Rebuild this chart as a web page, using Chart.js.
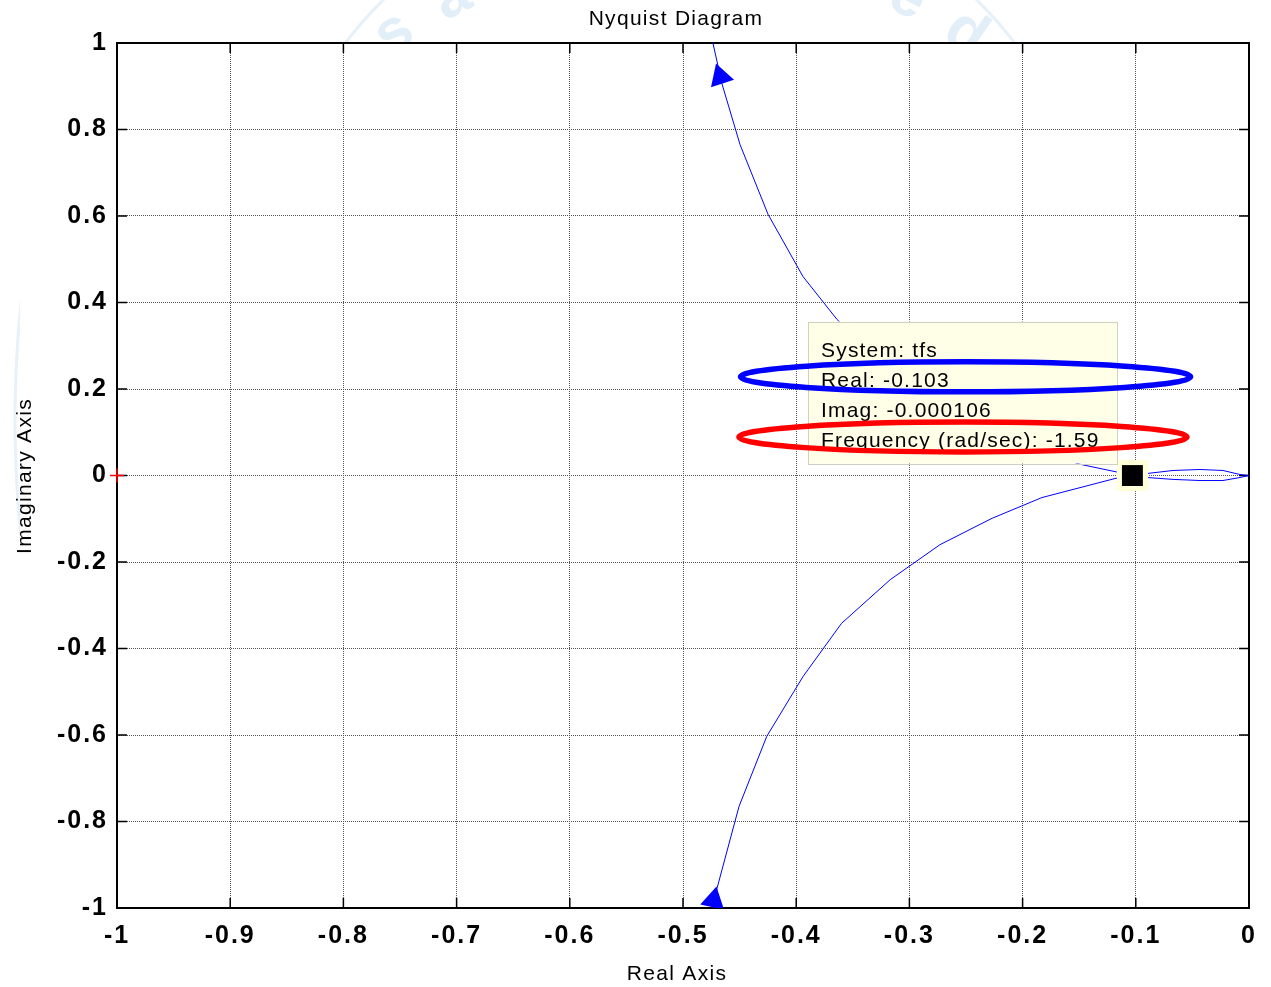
<!DOCTYPE html>
<html>
<head>
<meta charset="utf-8">
<title>Nyquist Diagram</title>
<script src="https://cdn.jsdelivr.net/npm/chart.js@4.4.0/dist/chart.umd.min.js"></script>
<style>
  html, body { margin: 0; padding: 0; background: #fff; }
  canvas { display: block; }
</style>
</head>
<body>
<canvas id="nyq" width="1271" height="987"></canvas>
<script>
// ---- axis ticks ----
const xTicks = [-1, -0.9, -0.8, -0.7, -0.6, -0.5, -0.4, -0.3, -0.2, -0.1, 0];
const xTickLabels = ['-1', '-0.9', '-0.8', '-0.7', '-0.6', '-0.5', '-0.4', '-0.3', '-0.2', '-0.1', '0'];
const yTicks = [-1, -0.8, -0.6, -0.4, -0.2, 0, 0.2, 0.4, 0.6, 0.8, 1];
const yTickLabels = ['-1', '-0.8', '-0.6', '-0.4', '-0.2', '0', '0.2', '0.4', '0.6', '0.8', '1'];

// ---- Nyquist curve of tfs (real / imaginary parts) ----
// negative-imaginary branch, from the bottom up to the real-axis crossing
const lowerRe = [-0.477, -0.4735, -0.470, -0.4505, -0.426, -0.394, -0.360, -0.317, -0.273, -0.227, -0.1829, -0.1184];
const lowerIm = [-1.04, -1.0, -0.955, -0.765, -0.603, -0.465, -0.342, -0.241, -0.160, -0.099, -0.051, -0.007];
// small loop between the crossing and the origin
const loopRe = [-0.103, -0.0901, -0.0671, -0.0433, -0.0230, -0.0080, 0, -0.0080, -0.0230, -0.0433, -0.0671, -0.0901, -0.103];
const loopIm = [-0.000106, -0.0046, -0.009, -0.0116, -0.0116, -0.0046, 0, 0.0023, 0.0116, 0.0139, 0.0116, 0.0046, -0.000106];
// positive-imaginary branch, from the crossing up to the top
const upperRe = [-0.1184, -0.1475, -0.1829, -0.227, -0.273, -0.317, -0.364, -0.394, -0.4249, -0.4496, -0.4655, -0.4735, -0.477];
const upperIm = [0.009, 0.025, 0.051, 0.099, 0.160, 0.241, 0.361, 0.460, 0.604, 0.765, 0.905, 0.999, 1.04];

// direction arrows on the two branches
const arrowRe = [-0.467, -0.473];
const arrowIm = [0.922, -0.982];

// critical point -1 + j0
const critRe = [-1];
const critIm = [0];

// data tip
const tipSystem = 'tfs';
const tipRe = -0.103;
const tipIm = -0.000106;
const tipFreq = -1.59;

// ---- layout of the data-tip box and highlight rings (axis units) ----
const tipBox = { left: -0.3896, right: -0.1166, top: 0.356, bottom: 0.0277 };
const rings = [
  { cx: -0.2504, cy: 0.2282, rx: 0.1988, ry: 0.0347, color: '#0000ff' },
  { cx: -0.2527, cy: 0.0890, rx: 0.1979, ry: 0.0347, color: '#ff0000' }
];
const arrowRotation = [-18, 12];

const FONT = '"Liberation Sans", Arial, Helvetica, sans-serif';

function pts(re, im) { return re.map((v, i) => ({ x: v, y: im[i] })); }
const curve = pts(lowerRe, lowerIm).concat(pts(loopRe, loopIm), pts(upperRe, upperIm));

// background, faint logo behind the page margins, white axes face
const backdrop = {
  id: 'backdrop',
  beforeDraw(chart) {
    const { ctx, chartArea: a, width, height } = chart;
    ctx.save();
    ctx.fillStyle = '#fff';
    ctx.fillRect(0, 0, width, height);

    // logo ring and lettering above the axes
    ctx.save();
    ctx.beginPath();
    ctx.rect(0, 0, width, a.top);
    ctx.clip();
    ctx.strokeStyle = '#e6f1f9';
    ctx.lineWidth = 3;
    ctx.beginPath(); ctx.arc(680, 300, 422, 0, Math.PI * 2); ctx.stroke();
    const word = 'saeedAhmed';
    ctx.fillStyle = '#e2eff8';
    ctx.font = 'bold 60px ' + FONT;
    ctx.textAlign = 'center';
    ctx.textBaseline = 'alphabetic';
    const cx = 680, cy = 440, rad = 480;
    const step = 7.8 * Math.PI / 180;
    const start = -((word.length - 1) / 2) * step;
    for (let i = 0; i < word.length; i++) {
      const t = start + i * step;
      ctx.save();
      ctx.translate(cx + Math.sin(t) * rad, cy - Math.cos(t) * rad);
      ctx.rotate(t);
      ctx.fillText(word[i], 0, 0);
      ctx.restore();
    }
    ctx.restore();

    // outer logo ring along the left margin
    ctx.save();
    ctx.beginPath();
    ctx.rect(0, 0, 20, height);
    ctx.clip();
    ctx.strokeStyle = '#e6f1f9';
    ctx.lineWidth = 3;
    ctx.beginPath(); ctx.arc(1133, 420, 1118, 0, Math.PI * 2); ctx.stroke();
    ctx.restore();

    ctx.fillStyle = '#fff';
    ctx.fillRect(a.left, a.top, a.right - a.left, a.bottom - a.top);
    ctx.restore();
    // wider glyph spacing for the tick labels drawn next
    ctx.letterSpacing = '2px';
  }
};

// axes box with inward tick marks on all four sides
const frame = {
  id: 'frame',
  beforeDatasetsDraw(chart) {
    const { ctx, chartArea: a, scales: { x, y } } = chart;
    ctx.save();
    ctx.letterSpacing = '0px';
    ctx.strokeStyle = '#000';
    ctx.lineWidth = 2;
    ctx.strokeRect(a.left, a.top, a.right - a.left, a.bottom - a.top);
    ctx.lineWidth = 1.5;
    const len = 10;
    ctx.beginPath();
    xTicks.forEach(v => {
      const px = x.getPixelForValue(v);
      ctx.moveTo(px, a.bottom); ctx.lineTo(px, a.bottom - len);
      ctx.moveTo(px, a.top); ctx.lineTo(px, a.top + len);
    });
    yTicks.forEach(v => {
      const py = y.getPixelForValue(v);
      ctx.moveTo(a.left, py); ctx.lineTo(a.left + len, py);
      ctx.moveTo(a.right, py); ctx.lineTo(a.right - len, py);
    });
    ctx.stroke();
    ctx.restore();
  }
};

// data-tip box with its text and the two highlight rings
const dataTip = {
  id: 'dataTip',
  afterDatasetsDraw(chart) {
    const { ctx, scales: { x, y } } = chart;
    const l = x.getPixelForValue(tipBox.left), r = x.getPixelForValue(tipBox.right);
    const t = y.getPixelForValue(tipBox.top), b = y.getPixelForValue(tipBox.bottom);
    ctx.save();
    ctx.fillStyle = '#ffffe8';
    ctx.fillRect(l, t, r - l, b - t);
    ctx.strokeStyle = '#cfcfc4';
    ctx.lineWidth = 1;
    ctx.strokeRect(Math.round(l) + 0.5, Math.round(t) + 0.5, Math.round(r - l), Math.round(b - t));
    const lines = [
      'System: ' + tipSystem,
      'Real: ' + tipRe,
      'Imag: ' + tipIm,
      'Frequency (rad/sec): ' + tipFreq
    ];
    ctx.fillStyle = '#000';
    ctx.font = '21px ' + FONT;
    ctx.letterSpacing = '1.2px';
    ctx.textAlign = 'left';
    ctx.textBaseline = 'alphabetic';
    lines.forEach((s, i) => ctx.fillText(s, l + 13, t + 35 + 30 * i));
    rings.forEach(g => {
      const cx = x.getPixelForValue(g.cx), cy = y.getPixelForValue(g.cy);
      const rx = Math.abs(x.getPixelForValue(g.cx + g.rx) - cx);
      const ry = Math.abs(y.getPixelForValue(g.cy + g.ry) - cy);
      ctx.strokeStyle = g.color;
      ctx.lineWidth = 5.5;
      ctx.beginPath();
      ctx.ellipse(cx, cy, rx, ry, 0, 0, Math.PI * 2);
      ctx.stroke();
    });
    ctx.restore();
  }
};

// plot title and axis titles
const titles = {
  id: 'titles',
  afterDraw(chart) {
    const { ctx } = chart;
    ctx.save();
    ctx.fillStyle = '#000';
    ctx.font = '21px ' + FONT;
    ctx.letterSpacing = '1.3px';
    ctx.textAlign = 'center';
    ctx.textBaseline = 'middle';
    ctx.fillText('Nyquist Diagram', 676, 19);
    ctx.fillText('Real Axis', 677, 974);
    ctx.translate(25, 476);
    ctx.rotate(-Math.PI / 2);
    ctx.fillText('Imaginary Axis', 0, 0);
    ctx.restore();
  }
};

const tickFont = { family: FONT, size: 25, weight: 'bold', lineHeight: 1.2 };

new Chart(document.getElementById('nyq'), {
  type: 'scatter',
  data: {
    datasets: [
      {
        label: 'selected point',
        data: [{ x: tipRe, y: tipIm }],
        pointStyle: 'rect', pointRadius: 14.8,
        pointBackgroundColor: '#000', pointBorderWidth: 0, order: 0
      },
      {
        label: 'selected point halo',
        data: [{ x: tipRe, y: tipIm }],
        pointStyle: 'rect', pointRadius: 22,
        pointBackgroundColor: '#ffffd9', pointBorderWidth: 0, order: 1
      },
      {
        label: 'direction',
        data: pts(arrowRe, arrowIm),
        pointStyle: 'triangle', pointRadius: 14, pointRotation: arrowRotation,
        pointBackgroundColor: '#0000ff', pointBorderColor: '#0000ff', pointBorderWidth: 0, order: 2
      },
      {
        label: tipSystem,
        data: curve,
        showLine: true, tension: 0,
        borderColor: '#0000ff', borderWidth: 1,
        pointRadius: 0, order: 3
      },
      {
        label: 'critical point',
        data: pts(critRe, critIm),
        pointStyle: 'cross', pointRadius: 7, pointBorderColor: '#ff0000', pointBorderWidth: 1.5,
        clip: false, order: 4
      }
    ]
  },
  options: {
    responsive: false,
    animation: false,
    events: [],
    layout: { padding: { top: 43, right: 22, bottom: 0, left: 0 } },
    plugins: { legend: { display: false }, tooltip: { enabled: false }, title: { display: false } },
    scales: {
      x: {
        type: 'linear', min: -1, max: 0,
        afterBuildTicks: s => { s.ticks = xTicks.map(v => ({ value: v })); },
        afterFit: s => { s.height = 79; },
        ticks: {
          callback: (v, i) => xTickLabels[i],
          font: tickFont, color: '#000', padding: 13,
          maxRotation: 0, minRotation: 0, autoSkip: false
        },
        grid: { color: '#555', lineWidth: 1, drawTicks: false },
        border: { display: false, dash: [1, 1] }
      },
      y: {
        type: 'linear', min: -1, max: 1,
        afterBuildTicks: s => { s.ticks = yTicks.map(v => ({ value: v })); },
        afterFit: s => { s.width = 117; },
        ticks: {
          callback: (v, i) => yTickLabels[i],
          font: tickFont, color: '#000', padding: 9,
          autoSkip: false
        },
        grid: { color: '#555', lineWidth: 1, drawTicks: false },
        border: { display: false, dash: [1, 1] }
      }
    }
  },
  plugins: [backdrop, frame, dataTip, titles]
});
</script>
</body>
</html>
